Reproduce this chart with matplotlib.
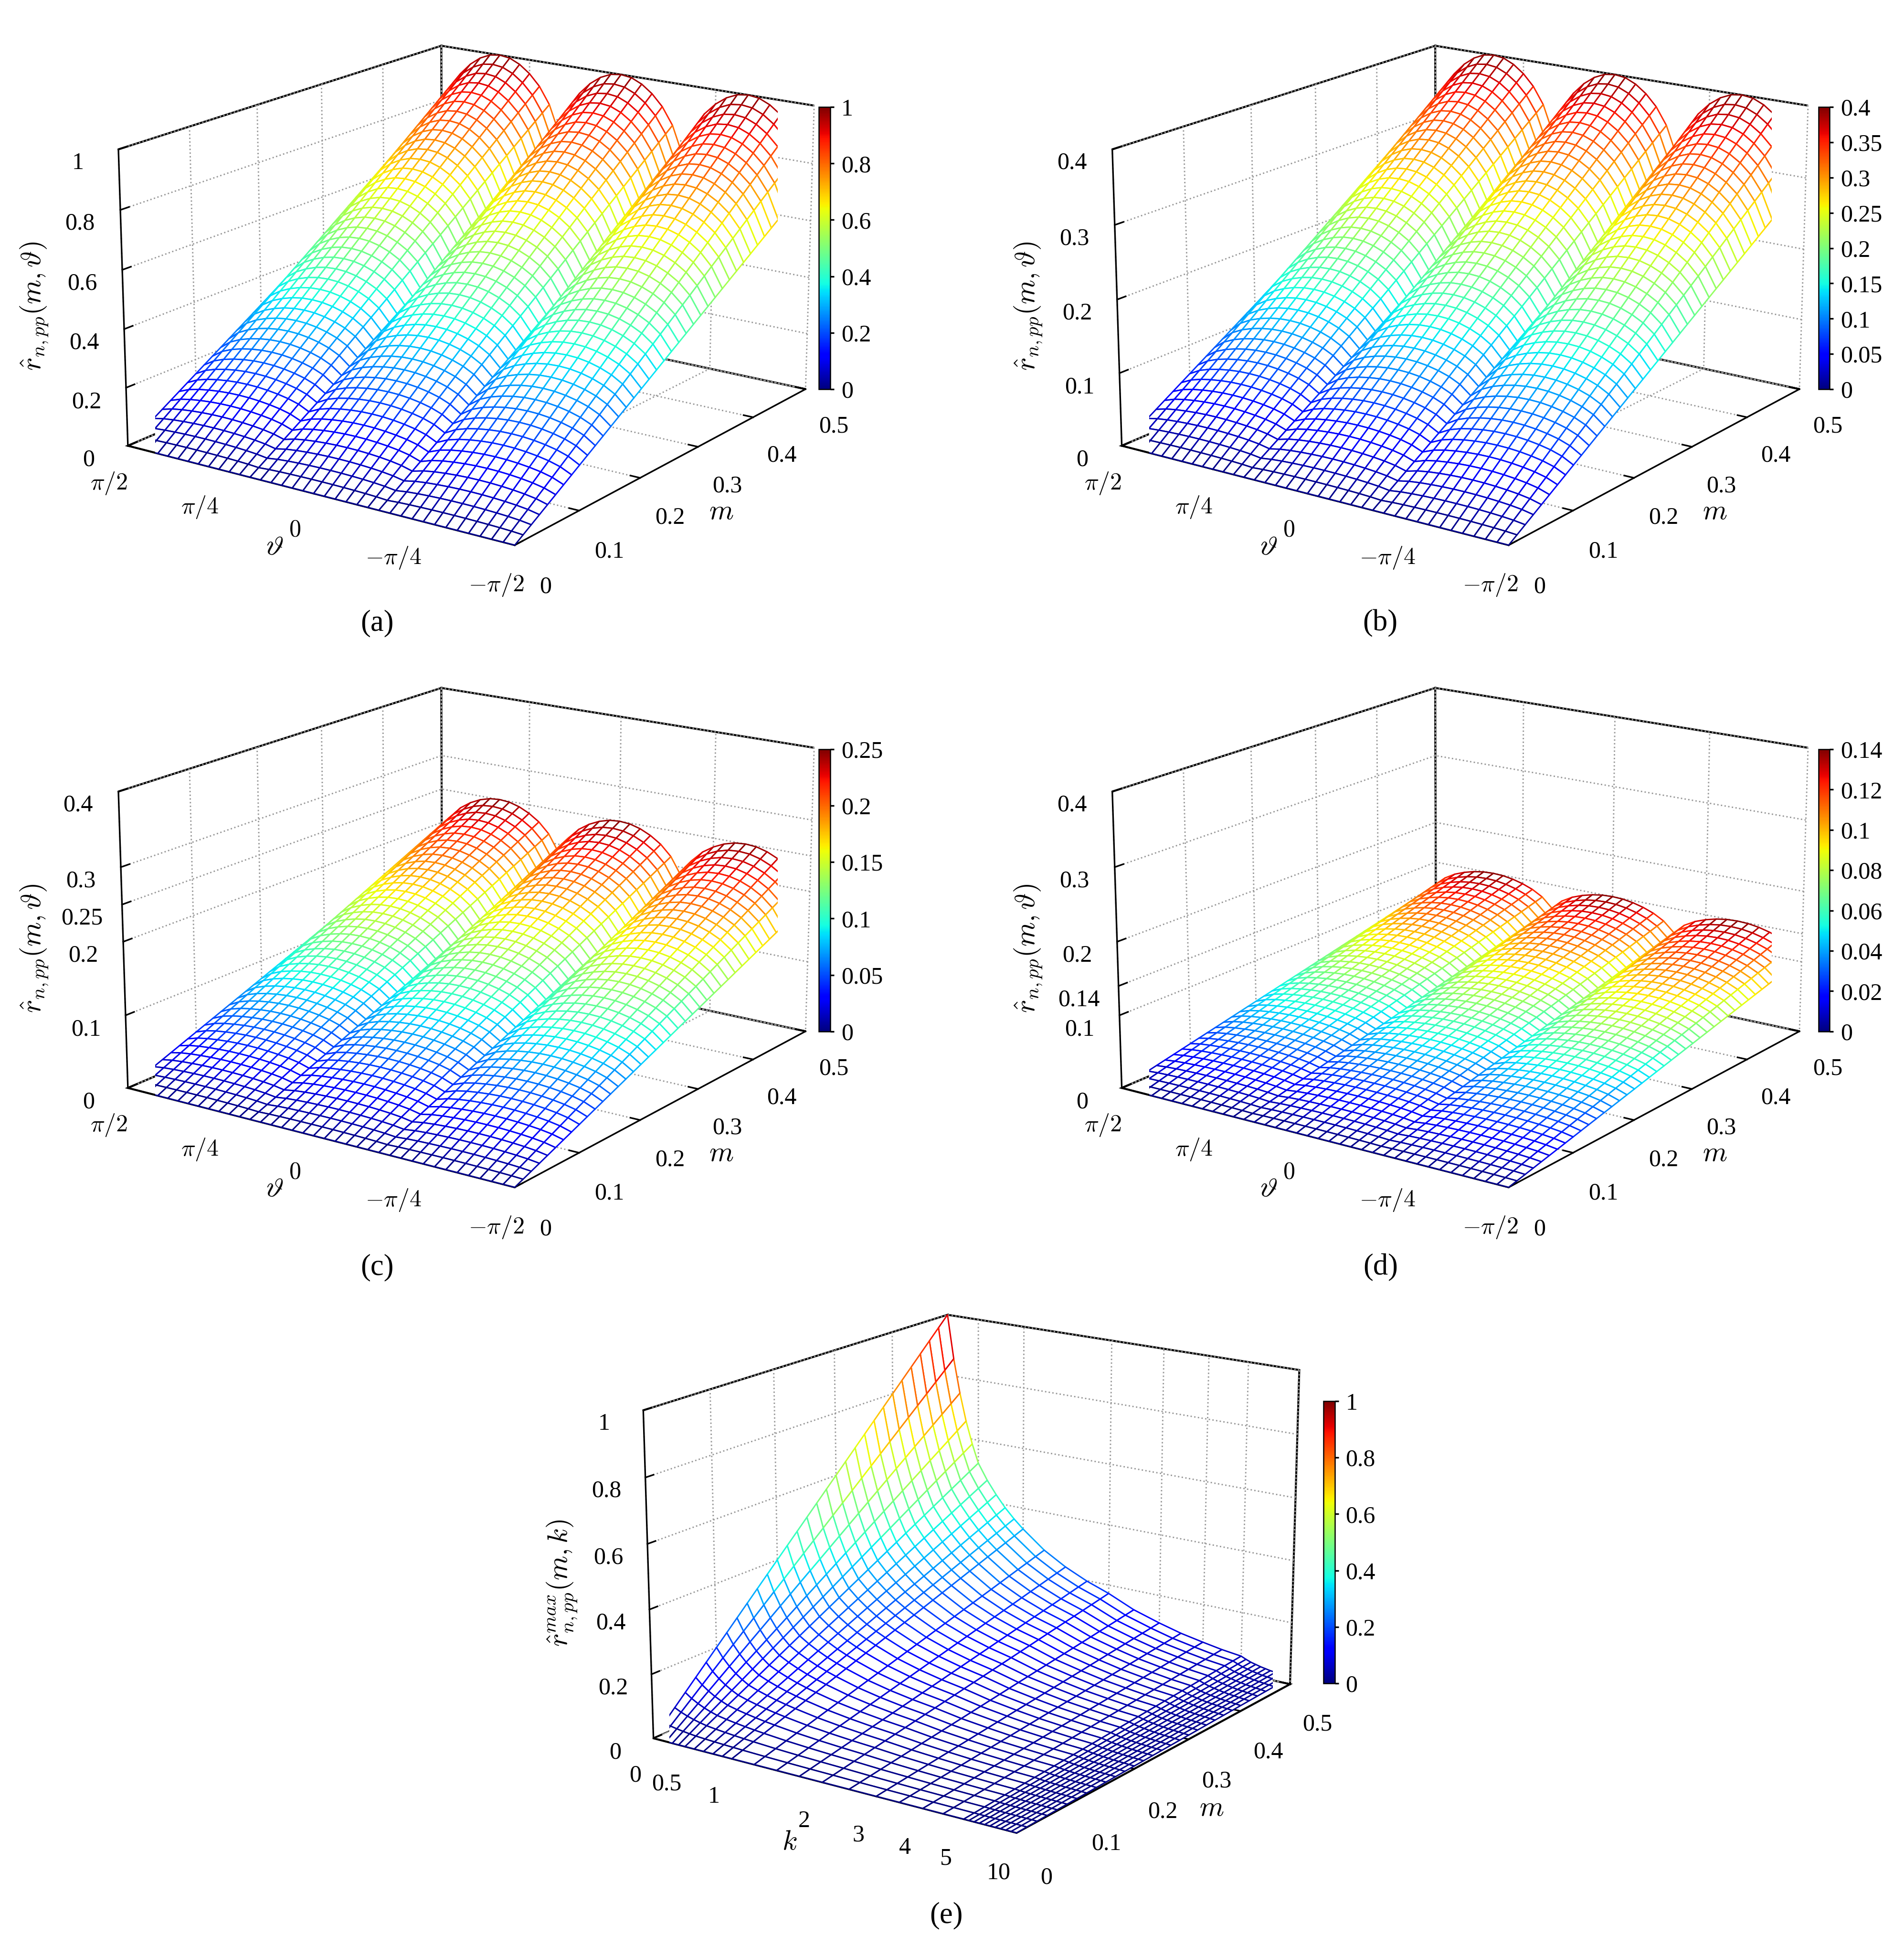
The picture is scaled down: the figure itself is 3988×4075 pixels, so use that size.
import numpy as np
import matplotlib
matplotlib.use("Agg")
import matplotlib.pyplot as plt
from matplotlib import cm, colors

plt.rcParams['font.family'] = ['Liberation Serif', 'DejaVu Serif']
plt.rcParams['mathtext.fontset'] = 'cm'

# ---- data ----
arch = [0.75, 0.85, 0.91, 0.95, 0.978, 0.995, 1.0, 0.995, 0.978, 0.95, 0.91, 0.85]
theta_profile = arch * 3 + [0.75]          # relative profile across theta (pi/2 -> -pi/2)
peaks = [1.0, 0.4, 0.25, 0.14]               # panel maxima (a)-(d)
zlims = [1.0, 0.4, 0.4, 0.4]
zticks = [[0, 0.2, 0.4, 0.6, 0.8, 1], [0, 0.1, 0.2, 0.3, 0.4],
          [0, 0.1, 0.2, 0.25, 0.3, 0.4], [0, 0.1, 0.14, 0.2, 0.3, 0.4]]
zticklabels = [['0', '0.2', '0.4', '0.6', '0.8', '1'], ['0', '0.1', '0.2', '0.3', '0.4'],
               ['0', '0.1', '0.2', '0.25', '0.3', '0.4'], ['0', '0.1', '0.14', '0.2', '0.3', '0.4']]
cbticks = [[0, 0.2, 0.4, 0.6, 0.8, 1], [0, 0.05, 0.1, 0.15, 0.2, 0.25, 0.3, 0.35, 0.4],
           [0, 0.05, 0.1, 0.15, 0.2, 0.25], [0, 0.02, 0.04, 0.06, 0.08, 0.1, 0.12, 0.14]]
m_ticks = [0, 0.1, 0.2, 0.3, 0.4, 0.5]
theta_ticklabels = [r'$\pi/2$', r'$\pi/4$', r'$0$', r'$-\pi/4$', r'$-\pi/2$']

k_values = [0, 0.1, 0.2, 0.3, 0.4, 0.5, 0.6, 0.7, 0.8, 0.9, 1, 1.25, 1.5, 1.75, 2, 2.5, 3,
            3.5, 4, 4.5, 5, 5.5, 6, 6.5, 7, 7.5, 8, 8.5, 9, 9.5, 10]
k_profile = [1, .858, .747, .657, .584, .523, .471, .428, .390, .358, .330, .273, .231, .198,
             .172, .135, .109, .090, .076, .065, .057, .050, .044, .040, .036, .033, .030,
             .028, .026, .024, .022]
k_ticks = [0, 0.5, 1, 2, 3, 4, 5, 10]
k_tick_pos = [0, 0.33, 0.81, 1.71, 2.23, 2.67, 3.05, 3.53]

W, H = 3988, 4075
fig = plt.figure(figsize=(W / 300, H / 300), dpi=300)
cmap = cm.jet
FS = 12
ASPECT = (1.3, 1.5, 0.85)
ELEV, AZIM, ZOOM = 17, -55, 1.2


def style(ax):
    for a in (ax.xaxis, ax.yaxis, ax.zaxis):
        a.set_pane_color((1, 1, 1, 1))
        a.pane.set_edgecolor('black')
        a._axinfo['grid'].update(color='0.6', linestyle=':', linewidth=0.7)
        a._axinfo['tick'].update(inward_factor=0.0, outward_factor=0.3)
        a.line.set_linewidth(0.8)
    ax.zaxis.set_ticks_position('lower')
    ax.zaxis.set_label_position('lower')
    ax.zaxis.set_rotate_label(False)
    ax.tick_params(labelsize=FS, pad=1)
    ax.tick_params(axis='y', pad=4)
    ax.patch.set_alpha(0)


def mesh(ax, X, Y, Z, vmax, lw=0.7):
    surf = ax.plot_surface(X, Y, Z, color='white', shade=False, rstride=1, cstride=1,
                           linewidth=lw, antialiased=True)
    zc = 0.25 * (Z[:-1, :-1] + Z[1:, :-1] + Z[:-1, 1:] + Z[1:, 1:])
    ec = cmap(colors.Normalize(0, vmax)(zc)).reshape(-1, 4)
    surf.set_edgecolors(ec)
    surf.set_facecolor('white')


def cbar(rect, vmax, ticks):
    cax = fig.add_axes(rect)
    sm = cm.ScalarMappable(norm=colors.Normalize(0, vmax), cmap=cmap)
    cb = fig.colorbar(sm, cax=cax, ticks=ticks)
    cb.ax.set_yticklabels([('%g' % t) for t in ticks])
    cb.ax.tick_params(labelsize=FS, length=2)
    cb.outline.set_linewidth(0.6)


th = np.linspace(np.pi / 2, -np.pi / 2, len(theta_profile))
mm = np.linspace(0, 0.5, 41)
TH, MM = np.meshgrid(th, mm)
prof = np.array(theta_profile)

pos = [(0.015, 0.695), (0.537, 0.695), (0.015, 0.365), (0.537, 0.365)]
cbx = [0.43, 0.955, 0.43, 0.955]
letters = ['(a)', '(b)', '(c)', '(d)']
lab_y = [0.676, 0.676, 0.345, 0.345]
for i in range(4):
    x0, y0 = pos[i]
    ax = fig.add_axes([x0, y0, 0.46, 0.32], projection='3d')
    style(ax)
    Z = (MM / 0.5) * prof[None, :] * peaks[i]
    mesh(ax, TH, MM, Z, peaks[i])
    ax.set_xlim(np.pi / 2, -np.pi / 2)
    ax.set_ylim(0, 0.5)
    ax.set_zlim(0, zlims[i])
    ax.set_xticks([np.pi / 2, np.pi / 4, 0, -np.pi / 4, -np.pi / 2])
    ax.set_xticklabels(theta_ticklabels)
    ax.set_yticks(m_ticks)
    ax.set_yticklabels(['0', '0.1', '0.2', '0.3', '0.4', '0.5'])
    ax.set_zticks(zticks[i])
    ax.set_zticklabels(zticklabels[i])
    ax.set_xlabel(r'$\vartheta$', fontsize=14, labelpad=-2)
    ax.set_ylabel(r'$m$', fontsize=14, labelpad=0)
    ax.set_zlabel(r'$\hat{r}_{n,pp}(m,\vartheta)$', fontsize=14, labelpad=-1, rotation=90)
    ax.view_init(elev=ELEV, azim=AZIM)
    ax.set_box_aspect(ASPECT, zoom=ZOOM)
    cbar([cbx[i], y0 + 0.105, 0.006, 0.145], peaks[i], cbticks[i])
    fig.text(0.198 + (0.527 if i % 2 else 0), lab_y[i], letters[i], fontsize=15, ha='center')

# panel (e)
kpos = np.interp(k_values, k_ticks, k_tick_pos)
me = np.linspace(0, 0.5, 31)
KP, ME = np.meshgrid(kpos, me)
ZE = (ME / 0.5) * np.array(k_profile)[None, :]
ax = fig.add_axes([0.28, 0.043, 0.46, 0.31], projection='3d')
style(ax)
mesh(ax, KP, ME, ZE, 1.0)
ax.set_xlim(0, k_tick_pos[-1])
ax.set_ylim(0, 0.5)
ax.set_zlim(0, 1)
ax.set_xticks(k_tick_pos)
ax.set_xticklabels(['%g' % k for k in k_ticks])
ax.set_yticks(m_ticks)
ax.set_yticklabels(['0', '0.1', '0.2', '0.3', '0.4', '0.5'])
ax.set_zticks([0, 0.2, 0.4, 0.6, 0.8, 1])
ax.set_zticklabels(['0', '0.2', '0.4', '0.6', '0.8', '1'])
ax.set_xlabel(r'$k$', fontsize=14, labelpad=-2)
ax.set_ylabel(r'$m$', fontsize=14, labelpad=0)
ax.set_zlabel(r'$\hat{r}^{max}_{n,pp}(m,k)$', fontsize=14, labelpad=-1, rotation=90)
ax.view_init(elev=ELEV, azim=AZIM)
ax.set_box_aspect((1.3, 1.5, 1.0), zoom=ZOOM)
cbar([0.695, 0.135, 0.006, 0.145], 1.0, [0, 0.2, 0.4, 0.6, 0.8, 1])
fig.text(0.497, 0.012, '(e)', fontsize=15, ha='center')

fig.savefig('out.png', dpi=300)
